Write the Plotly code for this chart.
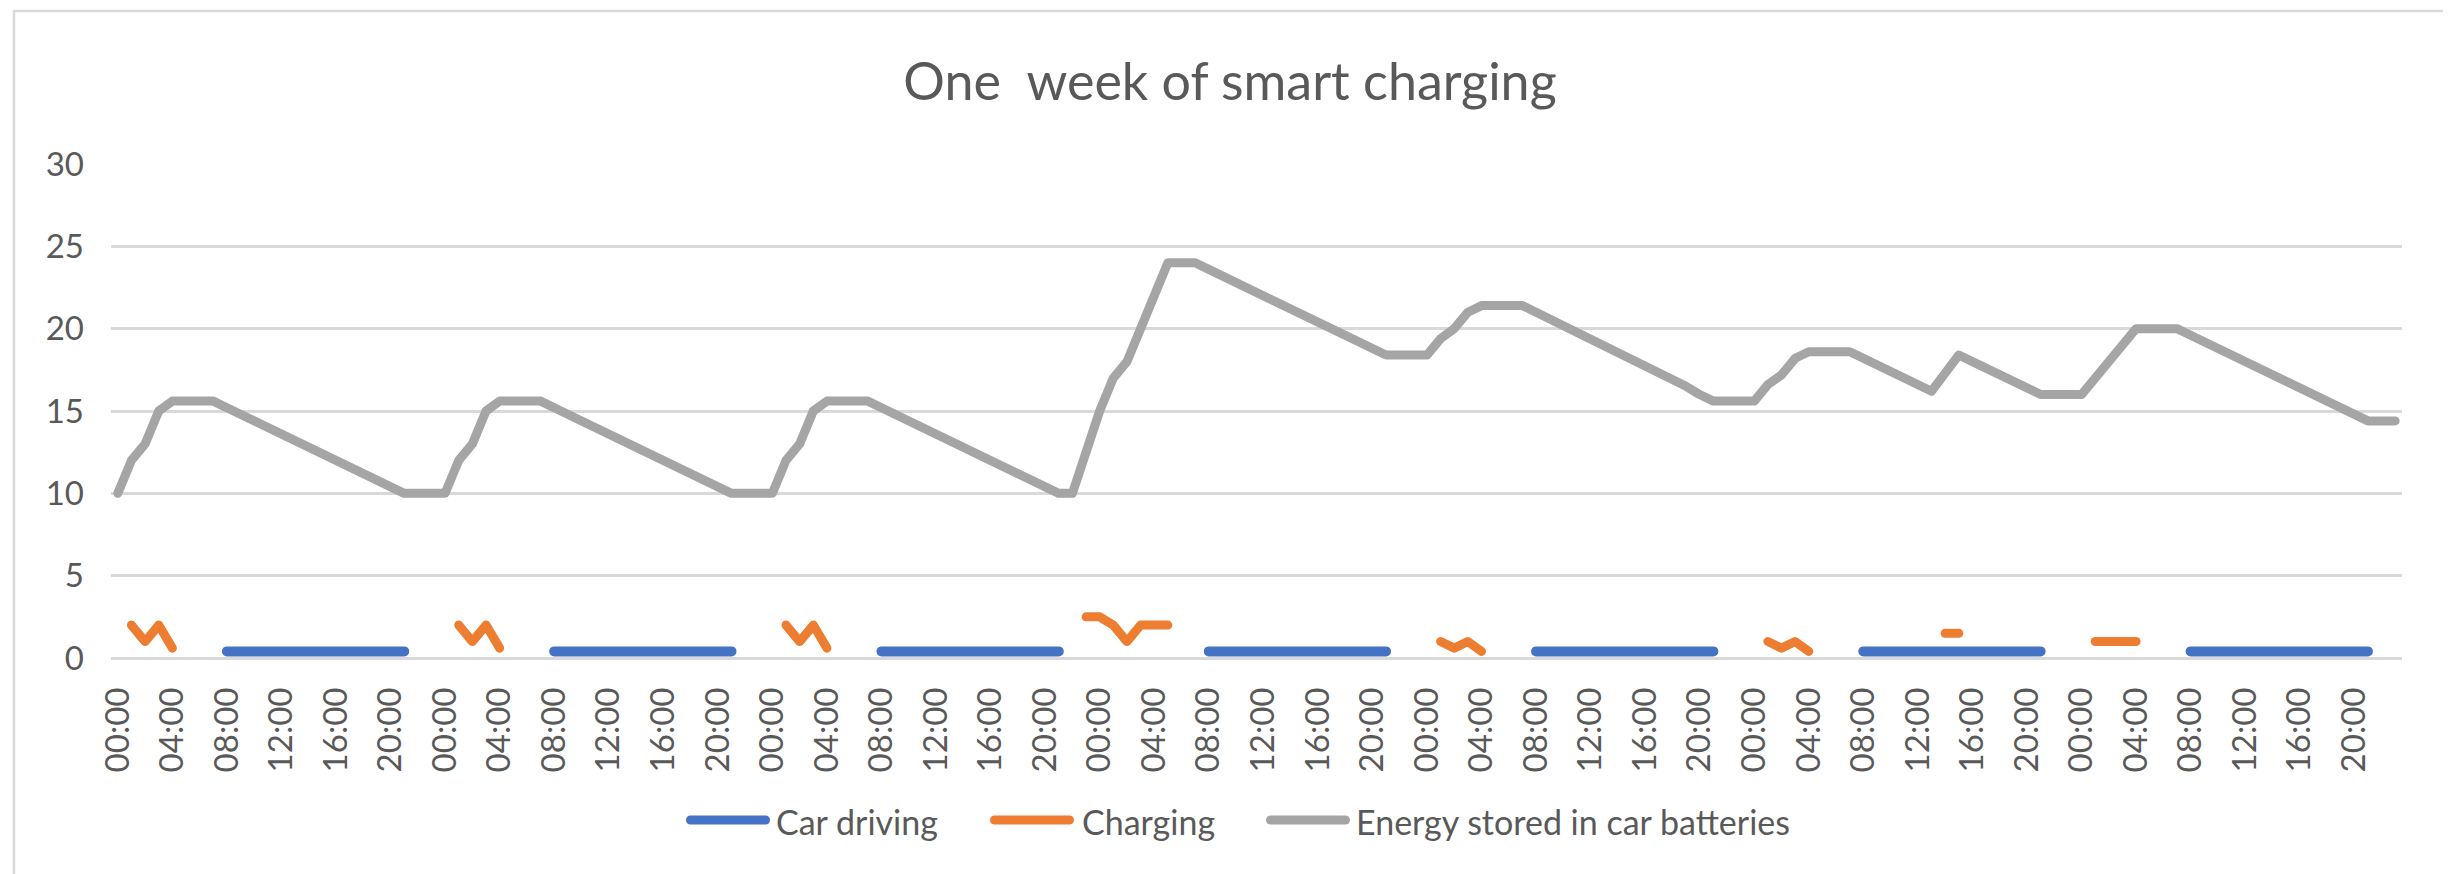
import plotly.graph_objects as go

# ---------------- data ----------------
TITLE = "One\u00a0 week of smart charging"
SERIES = ["Car driving", "Charging", "Energy stored in car batteries"]
COLORS = ["#4472C4", "#ED7D31", "#A5A5A5"]
DAY_TICKS = ["00:00", "04:00", "08:00", "12:00", "16:00", "20:00"]
N = None

# hourly values, one list of 24 per day
driving_d1 = [N, N, N, N, N, N, N, N, 0.4, 0.4, 0.4, 0.4, 0.4, 0.4, 0.4, 0.4, 0.4, 0.4, 0.4, 0.4, 0.4, 0.4, N, N]
driving_d2 = [N, N, N, N, N, N, N, N, 0.4, 0.4, 0.4, 0.4, 0.4, 0.4, 0.4, 0.4, 0.4, 0.4, 0.4, 0.4, 0.4, 0.4, N, N]
driving_d3 = [N, N, N, N, N, N, N, N, 0.4, 0.4, 0.4, 0.4, 0.4, 0.4, 0.4, 0.4, 0.4, 0.4, 0.4, 0.4, 0.4, 0.4, N, N]
driving_d4 = [N, N, N, N, N, N, N, N, 0.4, 0.4, 0.4, 0.4, 0.4, 0.4, 0.4, 0.4, 0.4, 0.4, 0.4, 0.4, 0.4, 0.4, N, N]
driving_d5 = [N, N, N, N, N, N, N, N, 0.4, 0.4, 0.4, 0.4, 0.4, 0.4, 0.4, 0.4, 0.4, 0.4, 0.4, 0.4, 0.4, 0.4, N, N]
driving_d6 = [N, N, N, N, N, N, N, N, 0.4, 0.4, 0.4, 0.4, 0.4, 0.4, 0.4, 0.4, 0.4, 0.4, 0.4, 0.4, 0.4, 0.4, N, N]
driving_d7 = [N, N, N, N, N, N, N, N, 0.4, 0.4, 0.4, 0.4, 0.4, 0.4, 0.4, 0.4, 0.4, 0.4, 0.4, 0.4, 0.4, 0.4, N, N]

charging_d1 = [N, 2, 1, 2, 0.6, N, N, N, N, N, N, N, N, N, N, N, N, N, N, N, N, N, N, N]
charging_d2 = [N, 2, 1, 2, 0.6, N, N, N, N, N, N, N, N, N, N, N, N, N, N, N, N, N, N, N]
charging_d3 = [N, 2, 1, 2, 0.6, N, N, N, N, N, N, N, N, N, N, N, N, N, N, N, N, N, N, 2.5]
charging_d4 = [2.5, 2, 1, 2, 2, 2, N, N, N, N, N, N, N, N, N, N, N, N, N, N, N, N, N, N]
charging_d5 = [N, 1, 0.6, 1, 0.4, N, N, N, N, N, N, N, N, N, N, N, N, N, N, N, N, N, N, N]
charging_d6 = [N, 1, 0.6, 1, 0.4, N, N, N, N, N, N, N, N, N, 1.5, 1.5, N, N, N, N, N, N, N, N]
charging_d7 = [N, 1, 1, 1, 1, N, N, N, N, N, N, N, N, N, N, N, N, N, N, N, N, N, N, N]

energy_d1 = [10, 12, 13, 15, 15.6, 15.6, 15.6, 15.6, 15.2, 14.8, 14.4, 14.0, 13.6, 13.2, 12.8, 12.4, 12.0, 11.6, 11.2, 10.8, 10.4, 10.0, 10.0, 10.0]
energy_d2 = [10, 12, 13, 15, 15.6, 15.6, 15.6, 15.6, 15.2, 14.8, 14.4, 14.0, 13.6, 13.2, 12.8, 12.4, 12.0, 11.6, 11.2, 10.8, 10.4, 10.0, 10.0, 10.0]
energy_d3 = [10, 12, 13, 15, 15.6, 15.6, 15.6, 15.6, 15.2, 14.8, 14.4, 14.0, 13.6, 13.2, 12.8, 12.4, 12.0, 11.6, 11.2, 10.8, 10.4, 10.0, 10.0, 12.5]
energy_d4 = [15, 17, 18, 20, 22, 24, 24, 24, 23.6, 23.2, 22.8, 22.4, 22.0, 21.6, 21.2, 20.8, 20.4, 20.0, 19.6, 19.2, 18.8, 18.4, 18.4, 18.4]
energy_d5 = [18.4, 19.4, 20.0, 21.0, 21.4, 21.4, 21.4, 21.4, 21.0, 20.6, 20.2, 19.8, 19.3, 18.9, 18.5, 18.1, 17.7, 17.3, 16.9, 16.5, 16.0, 15.6, 15.6, 15.6]
energy_d6 = [15.6, 16.6, 17.2, 18.2, 18.6, 18.6, 18.6, 18.6, 18.2, 17.8, 17.4, 17.0, 16.6, 16.2, 17.3, 18.4, 18.0, 17.6, 17.2, 16.8, 16.4, 16.0, 16.0, 16.0]
energy_d7 = [16.0, 17, 18, 19, 20, 20, 20, 20, 19.6, 19.2, 18.8, 18.4, 18.0, 17.6, 17.2, 16.8, 16.4, 16.0, 15.6, 15.2, 14.8, 14.4, 14.4, 14.4]

driving = driving_d1 + driving_d2 + driving_d3 + driving_d4 + driving_d5 + driving_d6 + driving_d7
charging = charging_d1 + charging_d2 + charging_d3 + charging_d4 + charging_d5 + charging_d6 + charging_d7
energy = energy_d1 + energy_d2 + energy_d3 + energy_d4 + energy_d5 + energy_d6 + energy_d7

hours = list(range(len(energy)))
tick_text = DAY_TICKS * 7
tick_vals = list(range(0, len(energy), 4))

# ---------------- layout geometry (pixels) ----------------
W, H = 2451, 874
PL, PR, PT, PB = 103, 2394, 156, 650
TEXT = "#595959"
GRID = "#D9D9D9"
FONT = "Lato"


def px(x):
    return (x - PL) / (PR - PL)


def py(y):
    return (PB - y) / (PB - PT)


fig = go.Figure()
for name, color, vals, wd in zip(SERIES, COLORS, [driving, charging, energy], [10, 9, 9]):
    fig.add_trace(go.Scatter(x=hours, y=vals, mode="lines", name=name,
                             line=dict(color=color, width=wd),
                             connectgaps=False, showlegend=False))

shapes = [dict(type="rect", xref="paper", yref="paper",
               x0=px(6), x1=px(2437), y0=py(3), y1=py(871),
               line=dict(color=GRID, width=2.5), fillcolor="rgba(0,0,0,0)", layer="below")]
annotations = []
legend_items = [(682.5, 757.5, 766), (986.5, 1061.5, 1072), (1262.5, 1337.5, 1346)]
LEG_Y = 812
for (a, b, t), name, color in zip(legend_items, SERIES, COLORS):
    shapes.append(dict(type="line", xref="paper", yref="paper",
                       x0=px(a), x1=px(b), y0=py(LEG_Y), y1=py(LEG_Y),
                       line=dict(color=color, width=9)))
    annotations.append(dict(xref="paper", yref="paper", x=px(t), y=py(LEG_Y + 1),
                            xanchor="left", yanchor="middle", showarrow=False,
                            text=name, font=dict(family=FONT, size=34, color=TEXT)))

fig.update_layout(
    width=W, height=H,
    margin=dict(l=PL, r=W - PR, t=PT, b=H - PB, pad=0),
    paper_bgcolor="white", plot_bgcolor="white",
    title=dict(text=TITLE, x=1222 / W, xanchor="center", xref="container",
               y=1 - 74 / H, yref="container", yanchor="middle",
               font=dict(family=FONT, size=52, color=TEXT)),
    showlegend=False,
    shapes=shapes,
    annotations=annotations,
    xaxis=dict(range=[-0.5, len(energy) - 0.5], tickmode="array",
               tickvals=tick_vals, ticktext=tick_text, tickangle=-90,
               showgrid=False, zeroline=False, showline=False, ticks="",
               ticklabelstandoff=22,
               tickfont=dict(family=FONT, size=33, color=TEXT)),
    yaxis=dict(range=[0, 30], dtick=5, tick0=0, showgrid=True, gridcolor=GRID,
               gridwidth=2.5, zeroline=True, zerolinecolor=GRID, zerolinewidth=2.5,
               showline=False, ticks="", ticklabelstandoff=26,
               tickfont=dict(family=FONT, size=33, color=TEXT)),
)

js = """
document.querySelectorAll('.scatterlayer path.js-line, .shapelayer path').forEach(function(p){
  p.style.strokeLinecap='round'; p.style.strokeLinejoin='round';
});
"""
fig.write_html("out.html", post_script=js)
